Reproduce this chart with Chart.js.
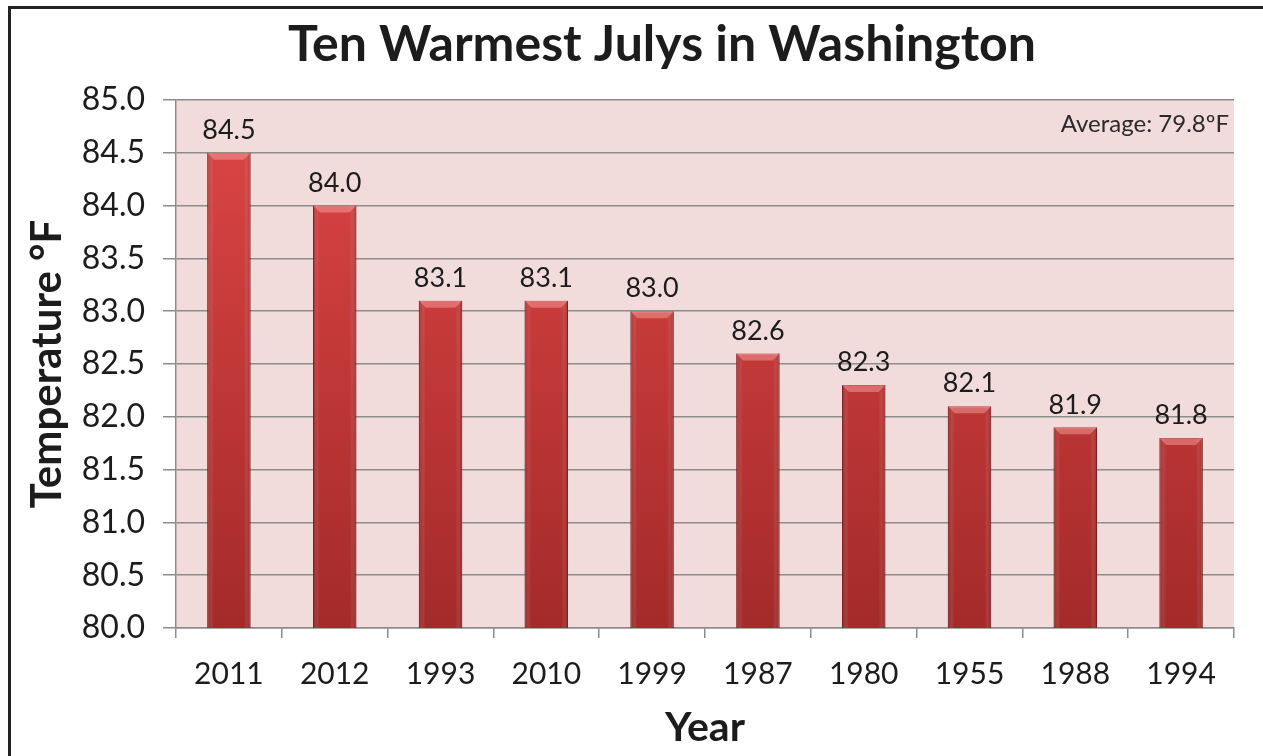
<!DOCTYPE html>
<html>
<head>
<meta charset="utf-8">
<script src="https://cdn.jsdelivr.net/npm/chart.js@4"></script>
<style>
  html, body { margin: 0; padding: 0; background: #fff; }
  canvas { display: block; }
</style>
</head>
<body>
<canvas id="julyChart" width="1263" height="756"></canvas>
<script>
const years = ['2011', '2012', '1993', '2010', '1999', '1987', '1980', '1955', '1988', '1994'];
const temps = [84.5, 84.0, 83.1, 83.1, 83.0, 82.6, 82.3, 82.1, 81.9, 81.8];
const axisMin = 80;
const axisMax = 85;
const axisStep = 0.5;
const chartTitle = 'Ten Warmest Julys in Washington';
const averageNote = 'Average: 79.8ºF';

const FONT = 'Lato, "Open Sans", sans-serif';
const TEXT = '#1c1c1c';
const GRID = '#8c8c8c';

// frame, pink plot area, title and average note
const decorations = {
  id: 'decorations',
  beforeDraw(chart) {
    const { ctx, chartArea } = chart;
    ctx.save();
    ctx.fillStyle = '#222';
    ctx.fillRect(8, 6, 3, chart.height);
    ctx.fillRect(8, 6, chart.width, 3);
    ctx.fillStyle = '#F2DCDB';
    ctx.fillRect(chartArea.left, chartArea.top, chartArea.right - chartArea.left, chartArea.bottom - chartArea.top);
    ctx.fillStyle = TEXT;
    ctx.font = `bold 50px ${FONT}`;
    ctx.textAlign = 'center';
    ctx.textBaseline = 'middle';
    ctx.fillText(chartTitle, 662, 45);
    ctx.restore();
  },
  afterDraw(chart) {
    const { ctx, chartArea } = chart;
    ctx.save();
    ctx.fillStyle = '#2a2a2a';
    ctx.font = `24px ${FONT}`;
    ctx.textAlign = 'right';
    ctx.textBaseline = 'middle';
    ctx.fillText(averageNote, chartArea.right - 5, chartArea.top + 24);
    ctx.restore();
  },
};

// shading on each bar and the value above it
const barDetails = {
  id: 'barDetails',
  afterDatasetsDraw(chart) {
    const { ctx, chartArea } = chart;
    const meta = chart.getDatasetMeta(0);
    ctx.save();
    meta.data.forEach((bar, i) => {
      const left = bar.x - bar.width / 2;
      const right = bar.x + bar.width / 2;
      const top = bar.y;
      const bottom = Math.min(bar.base, chartArea.bottom);

      const side = ctx.createLinearGradient(left, 0, right, 0);
      side.addColorStop(0, 'rgba(90,10,10,0.35)');
      side.addColorStop(0.15, 'rgba(255,255,255,0.0)');
      side.addColorStop(0.85, 'rgba(255,255,255,0.0)');
      side.addColorStop(1, 'rgba(90,10,10,0.35)');
      ctx.fillStyle = side;
      ctx.fillRect(left, top, right - left, bottom - top);

      ctx.fillStyle = 'rgba(255,170,170,0.45)';
      ctx.beginPath();
      ctx.moveTo(left, top);
      ctx.lineTo(right, top);
      ctx.lineTo(right - 7, top + 7);
      ctx.lineTo(left + 7, top + 7);
      ctx.closePath();
      ctx.fill();

      ctx.fillStyle = TEXT;
      ctx.font = `27px ${FONT}`;
      ctx.textAlign = 'center';
      ctx.textBaseline = 'bottom';
      ctx.fillText(temps[i].toFixed(1), bar.x, top - 9);
    });
    ctx.restore();
  },
};

function createChart() {
  const canvas = document.getElementById('julyChart');
  new Chart(canvas, {
    type: 'bar',
    data: {
      labels: years,
      datasets: [{
        data: temps,
        backgroundColor: context => {
          const area = context.chart.chartArea;
          if (!area) return '#C83535';
          const g = context.chart.ctx.createLinearGradient(0, area.top, 0, area.bottom);
          g.addColorStop(0, '#DE4645');
          g.addColorStop(1, '#A42A2A');
          return g;
        },
        borderColor: '#8E2020',
        borderWidth: 1,
        barPercentage: 0.41,
        categoryPercentage: 1,
      }],
    },
    options: {
      responsive: false,
      animation: false,
      layout: { padding: { left: 0, right: 29, top: 100, bottom: 0 } },
      plugins: {
        legend: { display: false },
        tooltip: { enabled: false },
      },
      scales: {
        x: {
          afterFit: scale => { scale.height = 128; },
          grid: { offset: true, drawOnChartArea: false, color: GRID, lineWidth: 1.5, tickLength: 10 },
          border: { color: GRID, width: 1.5 },
          ticks: { color: TEXT, font: { family: FONT, size: 30 }, padding: 18 },
          title: {
            display: true,
            text: 'Year',
            color: TEXT,
            font: { family: FONT, size: 41, weight: 'bold' },
            padding: { top: 0, bottom: 4 },
          },
        },
        y: {
          min: axisMin,
          max: axisMax,
          afterFit: scale => { scale.width = 176; },
          grid: { color: GRID, lineWidth: 1.5, tickLength: 13 },
          border: { color: GRID, width: 1.5 },
          ticks: {
            stepSize: axisStep,
            color: TEXT,
            font: { family: FONT, size: 32 },
            padding: 18,
            callback: value => value.toFixed(1),
          },
          title: {
            display: true,
            text: 'Temperature °F',
            color: TEXT,
            font: { family: FONT, size: 42, weight: 'bold' },
            padding: { top: 22, bottom: 0 },
          },
        },
      },
    },
    plugins: [decorations, barDetails],
  });
}

createChart();
</script>
</body>
</html>
